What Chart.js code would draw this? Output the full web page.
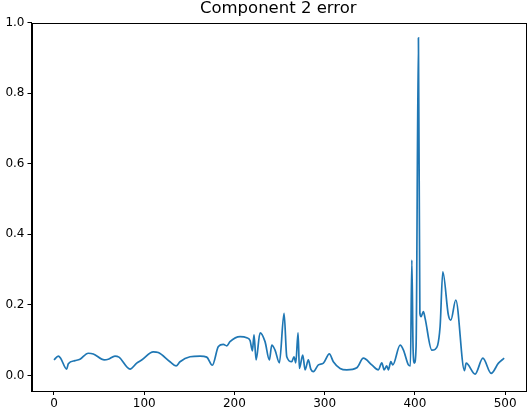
<!DOCTYPE html>
<html>
<head>
<meta charset="utf-8">
<script src="https://cdn.jsdelivr.net/npm/chart.js@4/dist/chart.umd.min.js"></script>
<style>
  html, body { margin: 0; padding: 0; background: #fff; }
  #wrap { width: 529px; height: 412px; }
</style>
</head>
<body>
<div id="wrap"><canvas id="chart"></canvas></div>
<script>
const title = "Component 2 error";

// sample index and error value
const xs = [0, 4.8, 7.4, 14.1, 15.9, 23.3, 28.8, 38, 43.6, 55.8, 60.2, 67.6, 72, 84.3, 91.7, 97.2,
  110.1, 115.6, 128.6, 135.3, 139.7, 150.8, 161.9, 169.3, 175.5, 182.2, 187.7, 191.5, 195.1,
  206.2, 213.6, 217.3, 219.9, 221.7, 224, 228.4, 233.9, 238.7, 241.4, 245, 249.8, 255, 258,
  263.5, 266, 268, 270.5, 272, 275.7, 278.3, 281.9, 284.6, 287.5, 293, 298.6, 305.2, 309.6,
  317.1, 324.5, 335.6, 342.9, 352.2, 359.5, 363.3, 365.9, 368.8, 370.6, 373.3, 375.5, 383.6,
  387.3, 392.8, 395, 396.6, 398, 399.4, 401.3, 403.9, 405.5, 406.9, 409.4, 411.3, 418.7,
  422.4, 427.9, 430.9, 437.1, 439.8, 445.3, 454.9, 456.8, 466.7, 475.3, 484.5, 492.6, 498.9];
const errors = [0.044, 0.055, 0.049, 0.018, 0.033, 0.042, 0.046, 0.063, 0.061, 0.044, 0.046, 0.055,
  0.052, 0.018, 0.035, 0.044, 0.067, 0.065, 0.039, 0.027, 0.039, 0.053, 0.055, 0.052, 0.029,
  0.082, 0.088, 0.084, 0.096, 0.110, 0.107, 0.099, 0.070, 0.115, 0.044, 0.121, 0.096, 0.044,
  0.086, 0.072, 0.036, 0.176, 0.053, 0.039, 0.053, 0.036, 0.121, 0.020, 0.058, 0.016, 0.044,
  0.018, 0.011, 0.030, 0.035, 0.061, 0.039, 0.020, 0.016, 0.022, 0.049, 0.030, 0.016, 0.036,
  0.016, 0.027, 0.016, 0.039, 0.030, 0.086, 0.072, 0.030, 0.027, 0.327, 0.072, 0.035, 0.082,
  0.957, 0.176, 0.167, 0.181, 0.162, 0.072, 0.074, 0.138, 0.294, 0.171, 0.157, 0.214, 0.014,
  0.035, 0.004, 0.049, 0.006, 0.035, 0.049];

const xTicks = [0, 100, 200, 300, 400, 500];
const yTicks = [0, 0.2, 0.4, 0.6, 0.8, 1.0];

const tickFont = { family: "DejaVu Sans", size: 12 };

// matplotlib style frame round the plot area, title centred over the axes
const frame = {
  id: "frame",
  afterDraw(chart) {
    const a = chart.chartArea, ctx = chart.ctx;
    ctx.save();
    ctx.strokeStyle = "#000";
    ctx.lineWidth = 1;
    ctx.strokeRect(Math.round(a.left) + 0.5, Math.round(a.top) + 0.5,
      Math.round(a.right - a.left), Math.round(a.bottom - a.top));
    ctx.fillStyle = "#000";
    ctx.font = "16.5px 'DejaVu Sans'";
    ctx.textAlign = "center";
    ctx.textBaseline = "alphabetic";
    ctx.fillText(title, (a.left + a.right) / 2, a.top - 9.3);
    ctx.restore();
  }
};

new Chart(document.getElementById("chart"), {
  type: "line",
  data: {
    datasets: [{
      data: xs.map((x, i) => ({ x: x, y: errors[i] })),
      borderColor: "#1f77b4",
      borderWidth: 1.7,
      pointRadius: 0,
      fill: false,
      cubicInterpolationMode: "monotone"
    }]
  },
  options: {
    responsive: true,
    maintainAspectRatio: false,
    animation: false,
    layout: { padding: { left: 0, right: 4, top: 22.7, bottom: 0 } },
    plugins: {
      legend: { display: false },
      tooltip: { enabled: false },
      title: { display: false }
    },
    scales: {
      x: {
        type: "linear",
        min: -24.9,
        max: 522,
        afterBuildTicks: s => { s.ticks = xTicks.map(v => ({ value: v })); },
        afterFit: s => { s.height = 21; },
        grid: { drawOnChartArea: false, drawTicks: true, tickLength: 4, color: "#000" },
        border: { display: true, color: "#000" },
        ticks: { color: "#000", font: tickFont, padding: 2, maxRotation: 0, autoSkip: false }
      },
      y: {
        min: -0.044,
        max: 1.0,
        afterBuildTicks: s => { s.ticks = yTicks.map(v => ({ value: v })); },
        afterFit: s => { s.width = 31.5; },
        grid: { drawOnChartArea: false, drawTicks: true, tickLength: 4, color: "#000" },
        border: { display: true, color: "#000" },
        ticks: { color: "#000", font: tickFont, padding: 3, callback: v => v.toFixed(1) }
      }
    }
  },
  plugins: [frame]
});
</script>
</body>
</html>
